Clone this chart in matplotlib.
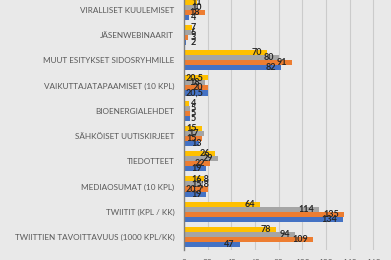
import matplotlib.pyplot as plt
import numpy as np

# ---------------------------------------------------------------------------
# DATA
# ---------------------------------------------------------------------------
categories = [
    "VIRALLISET KUULEMISET",
    "JÄSENWEBINAARIT",
    "MUUT ESITYKSET SIDOSRYHMILLE",
    "VAIKUTTAJATAPAAMISET (10 KPL)",
    "BIOENERGIALEHDET",
    "SÄHKÖISET UUTISKIRJEET",
    "TIEDOTTEET",
    "MEDIAOSUMAT (10 KPL)",
    "TWIITIT (KPL / KK)",
    "TWIITTIEN TAVOITTAVUUS (1000 KPL/KK)",
]
yellow_vals = [11, 7, 70, 20.5, 4, 15, 26, 16.8, 64, 78]
gray_vals = [10, 6, 80, 18, 5, 17, 29, 15.8, 114, 94]
orange_vals = [18, 3, 91, 20, 5, 15, 22, 20.7, 135, 109]
blue_vals = [4, 2, 82, 20.5, 5, 13, 19, 19, 134, 47]
x_ticks = [0, 20, 40, 60, 80, 100, 120, 140, 160]

# ---------------------------------------------------------------------------
# STYLE
# ---------------------------------------------------------------------------
BG = "#e9e9e9"
COLORS = ["#ffc000", "#a5a5a5", "#ed7d31", "#4472c4"]
plt.rcParams["font.family"] = ["Lato", "DejaVu Sans"]

W_PX, H_PX = 391, 260
XMAX = 175

fig = plt.figure(figsize=(W_PX / 100, H_PX / 100), dpi=100, facecolor=BG)
ax_left = 184 / W_PX
ax_bottom = 1 - 249.6 / H_PX
ax_top = 1 + 3 / H_PX
ax = fig.add_axes([ax_left, ax_bottom, 1 - ax_left, ax_top - ax_bottom])
ax.set_facecolor(BG)

y = np.arange(len(categories))
h = 0.2
series = [yellow_vals, gray_vals, orange_vals, blue_vals]
offsets = [-0.3, -0.1, 0.1, 0.3]

ax_w_px = (1 - ax_left) * W_PX
unit_per_px = XMAX / ax_w_px

# value labels sit just inside the bar end, pushed right when the bar is short
for vals, off, col in zip(series, offsets, COLORS):
    ax.barh(y + off, vals, height=h, color=col, zorder=3)
    for yi, v in zip(y, vals):
        txt = f"{v:g}".replace(".", ",")
        w_px = sum(2.5 if c == "," else 5.3 for c in txt)
        right_px = v / unit_per_px - 5
        if right_px - w_px < 0:
            ax.text(7 * unit_per_px, yi + off, txt, ha="left", va="center",
                    fontsize=6.5, fontweight="bold", color="#262626", zorder=4)
        else:
            ax.text(right_px * unit_per_px, yi + off, txt, ha="right", va="center",
                    fontsize=6.5, fontweight="bold", color="#262626", zorder=4)

ax.set_xlim(0, XMAX)
ax.set_ylim(len(categories) - 0.5, -0.5)
ax.set_yticks(y)
ax.set_yticklabels(categories)
ax.set_xticks(x_ticks)
ax.tick_params(axis="y", length=0, pad=7, labelsize=5.9, labelcolor="#595959")
ax.tick_params(axis="x", length=0, pad=7, labelsize=6, labelcolor="#595959")

ax.grid(True, axis="x", color="#cbcbcb", linewidth=0.8, zorder=0)
for side in ["top", "right", "bottom"]:
    ax.spines[side].set_visible(False)
ax.spines["left"].set_color("#7f7f7f")
ax.spines["left"].set_linewidth(1.0)
ax.spines["left"].set_zorder(5)

fig.savefig("out.png", dpi=100, facecolor=BG)
